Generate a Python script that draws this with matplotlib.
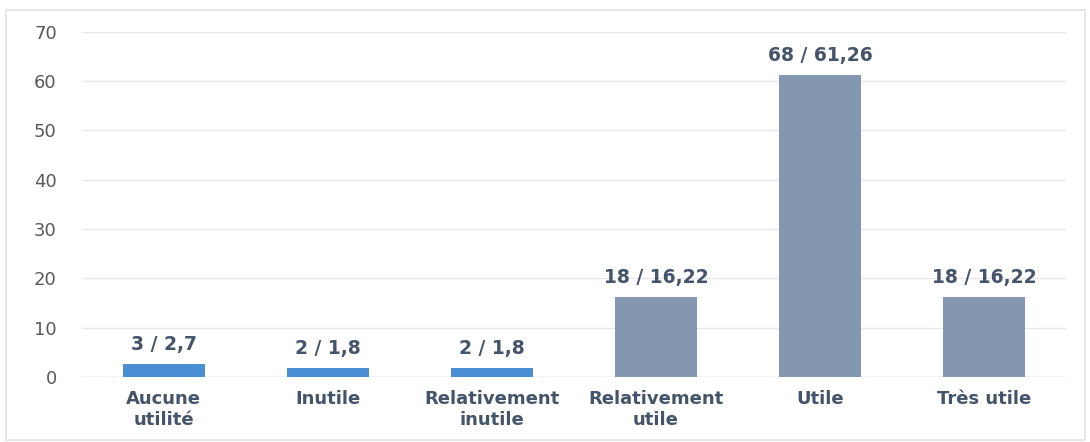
import matplotlib
matplotlib.use("Agg")
import matplotlib.pyplot as plt
from matplotlib.patches import Rectangle

# data
categories = ["Aucune\nutilité", "Inutile", "Relativement\ninutile",
              "Relativement\nutile", "Utile", "Très utile"]
percent = [2.7, 1.8, 1.8, 16.22, 61.26, 16.22]
labels = ["3 / 2,7", "2 / 1,8", "2 / 1,8", "18 / 16,22", "68 / 61,26", "18 / 16,22"]
colors = ["#4a8fd6"] * 3 + ["#8497b0"] * 3

fig = plt.figure(figsize=(10.9, 4.42), dpi=100)
ax = fig.add_axes([0.075, 0.147, 0.903, 0.781])

# light frame round the chart area
fig.patches.append(Rectangle((6 / 1090, 0.005), 1079 / 1090, 1 - 10 / 442 - 0.005,
                             transform=fig.transFigure, fill=False,
                             edgecolor="#e3e3e3", linewidth=1.2))

x = range(len(categories))
bars = ax.bar(x, percent, width=0.5, color=colors, zorder=2)

for xi, v, t in zip(x, percent, labels):
    ax.text(xi, v + 2.0, t, ha="center", va="bottom", fontsize=13.5,
            fontweight="bold", color="#44546a")

ax.set_ylim(0, 70)
ax.set_xlim(-0.5, len(categories) - 0.5)
ax.set_yticks(range(0, 71, 10))
ax.set_xticks(list(x))
ax.set_xticklabels(categories, fontsize=13, fontweight="bold", color="#44546a",
                   linespacing=1.25)
ax.tick_params(axis="y", labelsize=13, labelcolor="#595959", length=0, pad=18)
ax.tick_params(axis="x", length=0, pad=9)
ax.grid(axis="y", color="#e8e8e8", linewidth=1, zorder=0)
for s in ax.spines.values():
    s.set_visible(False)
ax.axhline(0, color="#d9d9d9", linewidth=1, zorder=1)

fig.savefig("out.png", dpi=100)
